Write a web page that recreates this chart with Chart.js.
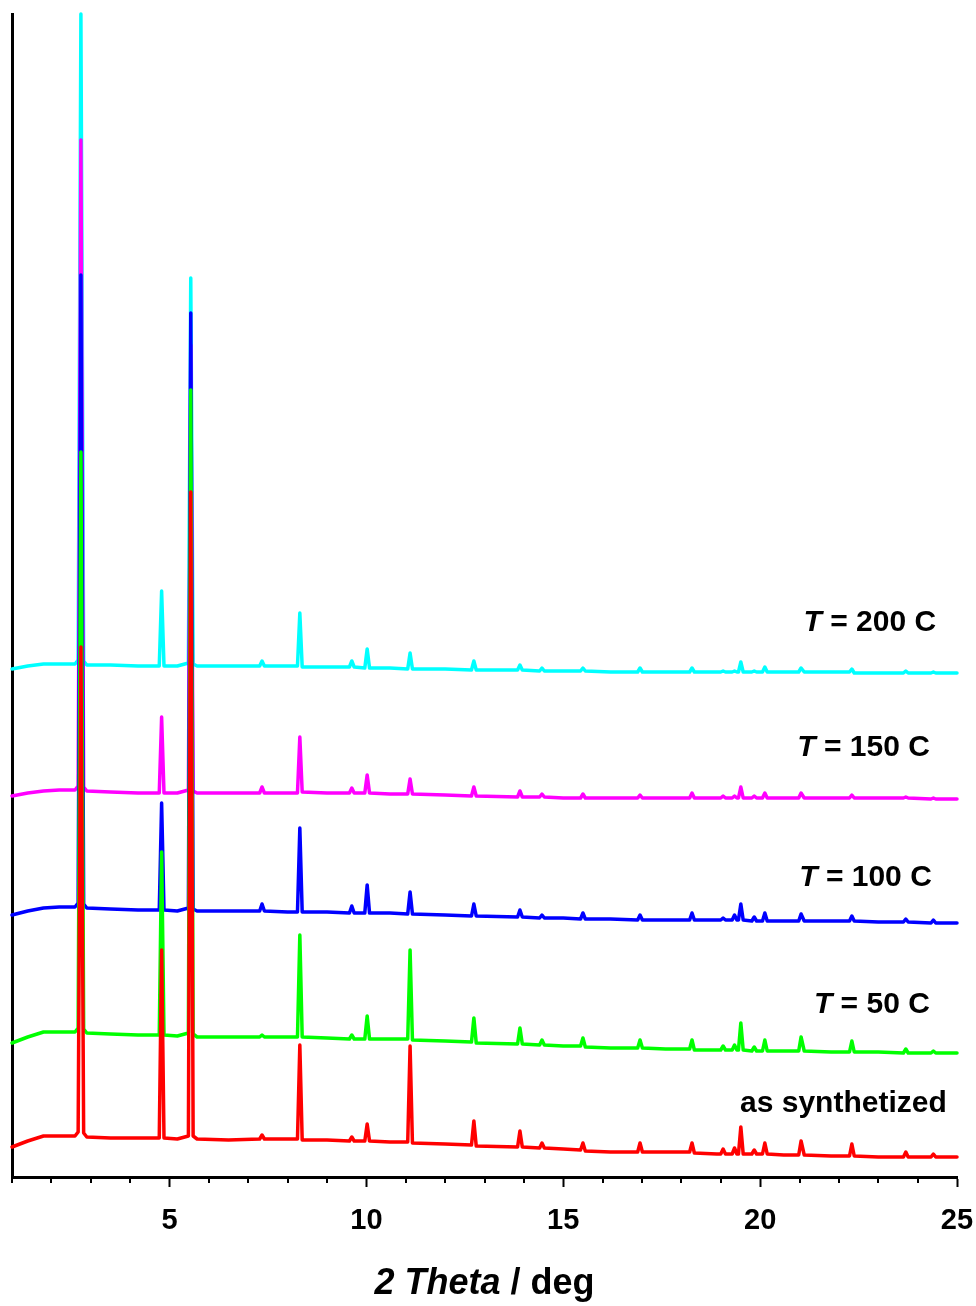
<!DOCTYPE html>
<html><head><meta charset="utf-8">
<script src="https://cdn.jsdelivr.net/npm/chart.js@4.4.0/dist/chart.umd.min.js"></script>
<style>html,body{margin:0;padding:0;background:#fff}#wrap{width:976px;height:1306px}</style>
</head><body><div id="wrap"><canvas id="c" width="976" height="1306"></canvas></div>
<script>
// 2 Theta grid (deg)
const twoTheta = [
  1.0, 1.4, 1.8, 2.2, 2.6, 2.68, 2.75, 2.82, 2.9, 3.5,
  4.2, 4.74, 4.80, 4.86, 5.2, 5.48, 5.54, 5.60, 5.7, 6.5,
  7.29, 7.35, 7.41, 8.0, 8.25, 8.31, 8.37, 9.0, 9.57, 9.63,
  9.69, 9.96, 10.02, 10.08, 10.6, 11.05, 11.11, 11.17, 12.0, 12.67,
  12.73, 12.79, 13.84, 13.9, 13.96, 14.4, 14.46, 14.52, 15.0, 15.44,
  15.5, 15.56, 16.2, 16.89, 16.95, 17.01, 17.6, 18.21, 18.27, 18.33,
  18.9, 19.0, 19.06, 19.12, 19.29, 19.35, 19.41, 19.45, 19.51, 19.57,
  19.79, 19.85, 19.91, 20.06, 20.12, 20.18, 20.6, 20.98, 21.04, 21.12,
  21.8, 22.27, 22.33, 22.39, 23.0, 23.64, 23.7, 23.76, 24.34, 24.4,
  24.46, 25.0
];
// intensities (a.u., stacked with offsets)
const asSynthetized = [
  30, 36, 41, 41, 41, 45, 530, 44, 40, 39,
  39, 39, 227, 39, 38, 41, 685, 41, 38, 37,
  38, 42, 38, 38, 38, 132, 37, 37, 36, 40,
  36, 36, 53, 36, 35, 35, 131, 34, 33, 32,
  56, 31, 30, 46, 30, 29, 34, 29, 28, 27,
  34, 26, 25, 25, 34, 25, 25, 25, 34, 24,
  23, 23, 28, 23, 23, 29, 23, 23, 50, 23,
  23, 27, 23, 23, 34, 23, 22, 22, 36, 22,
  21, 21, 33, 21, 20, 20, 25, 20, 20, 23,
  20, 20
];
const t50 = [
  134, 140, 145, 145, 145, 149, 725, 148, 144, 143,
  142, 142, 325, 142, 141, 144, 787, 143, 140, 140,
  140, 142, 140, 140, 140, 242, 140, 139, 138, 142,
  138, 138, 161, 138, 138, 138, 227, 137, 136, 135,
  159, 134, 133, 149, 133, 132, 137, 132, 131, 131,
  139, 130, 129, 129, 137, 129, 128, 128, 137, 127,
  127, 127, 131, 127, 127, 132, 127, 127, 154, 127,
  126, 130, 126, 126, 137, 126, 126, 126, 140, 126,
  125, 125, 136, 125, 125, 124, 128, 124, 124, 126,
  124, 124
];
const t100 = [
  262, 266, 269, 270, 270, 274, 902, 273, 269, 268,
  267, 267, 374, 267, 266, 269, 864, 268, 266, 266,
  266, 273, 266, 265, 265, 349, 265, 265, 264, 271,
  264, 264, 292, 264, 264, 263, 285, 263, 262, 261,
  273, 261, 260, 267, 260, 259, 262, 259, 259, 258,
  264, 258, 258, 257, 262, 257, 257, 257, 264, 257,
  257, 257, 259, 257, 257, 262, 257, 257, 273, 257,
  256, 260, 256, 256, 264, 256, 256, 256, 263, 256,
  256, 256, 261, 256, 255, 255, 258, 255, 254, 257,
  254, 254
];
const t150 = [
  381, 384, 386, 387, 387, 391, 1037, 390, 386, 385,
  384, 384, 460, 384, 384, 387, 832, 386, 384, 384,
  384, 390, 384, 384, 384, 440, 385, 384, 384, 389,
  384, 384, 402, 384, 383, 383, 398, 383, 382, 381,
  390, 381, 380, 386, 380, 380, 383, 380, 379, 379,
  383, 379, 379, 379, 382, 379, 379, 379, 384, 379,
  379, 379, 381, 379, 379, 381, 379, 379, 390, 379,
  379, 381, 379, 379, 384, 379, 379, 379, 384, 379,
  379, 379, 382, 379, 379, 379, 380, 379, 378, 379,
  378, 378
];
const t200 = [
  508, 511, 513, 513, 513, 517, 1163, 516, 512, 512,
  511, 511, 586, 511, 511, 514, 899, 513, 511, 511,
  511, 516, 511, 511, 511, 564, 510, 510, 510, 516,
  510, 509, 528, 509, 509, 508, 524, 508, 508, 507,
  516, 507, 507, 512, 507, 506, 509, 506, 506, 506,
  509, 506, 505, 505, 509, 505, 505, 505, 509, 505,
  505, 505, 506, 505, 505, 506, 505, 505, 515, 505,
  505, 506, 505, 505, 510, 505, 505, 505, 509, 505,
  505, 505, 508, 504, 504, 504, 506, 504, 504, 505,
  504, 504
];
const seriesValues = [asSynthetized, t50, t100, t150, t200];
const seriesColors = ['#ff0000', '#00ff00', '#0000ff', '#ff00ff', '#00ffff'];
const seriesItalic = ['', 'T', 'T', 'T', 'T'];
const seriesRest = ['as synthetized', ' = 50 C', ' = 100 C', ' = 150 C', ' = 200 C'];
const labelX = [24.74, 24.31, 24.36, 24.31, 24.47];
const labelY = [73, 172, 299, 429, 554];
const xMin = 1, xMax = 25, yMin = 0, yMax = 1163;
const majorTicks = [5, 10, 15, 20, 25];

const FONT = "'Liberation Sans', Arial, Helvetica, sans-serif";

const datasets = seriesValues.map((vals, i) => ({
  label: seriesItalic[i] + seriesRest[i],
  data: twoTheta.map((x, j) => ({x: x, y: vals[j]})),
  borderColor: seriesColors[i],
  backgroundColor: seriesColors[i],
  borderWidth: 3.5,
  pointRadius: 0,
  tension: 0,
  fill: false,
  clip: false,
  borderJoinStyle: 'round',
  borderCapStyle: 'round'
}));

const decor = {
  id: 'decor',
  afterDraw(chart) {
    const ctx = chart.ctx;
    const xs = chart.scales.x, ys = chart.scales.y;
    const area = chart.chartArea;
    ctx.save();
    // minor ticks
    ctx.strokeStyle = '#000';
    ctx.lineWidth = 2;
    for (let v = xMin; v <= xMax; v++) {
      if (majorTicks.includes(v)) continue;
      const px = Math.round(xs.getPixelForValue(v));
      ctx.beginPath();
      ctx.moveTo(px, area.bottom);
      ctx.lineTo(px, area.bottom + 6);
      ctx.stroke();
    }
    // series labels
    ctx.fillStyle = '#000';
    ctx.textBaseline = 'middle';
    const bold = 'bold 30px ' + FONT;
    const boldIt = 'italic bold 30px ' + FONT;
    for (let i = 0; i < seriesRest.length; i++) {
      const right = xs.getPixelForValue(labelX[i]);
      const y = ys.getPixelForValue(labelY[i]);
      ctx.font = boldIt;
      const w1 = ctx.measureText(seriesItalic[i]).width;
      ctx.font = bold;
      const w2 = ctx.measureText(seriesRest[i]).width;
      let x = right - w1 - w2;
      ctx.font = boldIt;
      ctx.textAlign = 'left';
      ctx.fillText(seriesItalic[i], x, y);
      ctx.font = bold;
      ctx.fillText(seriesRest[i], x + w1, y);
    }
    // axis title
    const parts = [['2 Theta', true], [' / deg', false]];
    const fs = 36;
    let total = 0;
    parts.forEach(p => { ctx.font = (p[1] ? 'italic ' : '') + 'bold ' + fs + 'px ' + FONT; total += ctx.measureText(p[0]).width; });
    let tx = (area.left + area.right) / 2 - total / 2;
    ctx.textBaseline = 'alphabetic';
    parts.forEach(p => {
      ctx.font = (p[1] ? 'italic ' : '') + 'bold ' + fs + 'px ' + FONT;
      ctx.fillText(p[0], tx, 1294);
      tx += ctx.measureText(p[0]).width;
    });
    ctx.restore();
  }
};

new Chart(document.getElementById('c'), {
  type: 'line',
  data: { datasets: datasets },
  options: {
    responsive: false,
    animation: false,
    devicePixelRatio: 1,
    layout: { padding: { left: 12, right: 19, top: 14, bottom: 59 } },
    plugins: { legend: { display: false }, tooltip: { enabled: false }, title: { display: false } },
    scales: {
      x: {
        type: 'linear', min: xMin, max: xMax,
        afterFit: s => { s.height = 70; s.paddingLeft = 0; s.paddingRight = 0; },
        ticks: {
          stepSize: 1, autoSkip: false, maxRotation: 0, padding: 17,
          color: '#000',
          font: { family: FONT, size: 29, weight: 'bold' },
          callback: v => (majorTicks.includes(v) ? String(v) : '')
        },
        grid: {
          drawOnChartArea: false, tickLength: 10, tickWidth: 2,
          tickColor: c => (c.tick && majorTicks.includes(c.tick.value) ? '#000' : 'rgba(0,0,0,0)')
        },
        border: { display: true, color: '#000', width: 3 }
      },
      y: {
        type: 'linear', min: yMin, max: yMax,
        afterFit: s => { s.width = 0; s.paddingTop = 0; s.paddingBottom = 0; },
        ticks: { display: false },
        grid: { display: false, drawTicks: false },
        border: { display: true, color: '#000', width: 3 }
      }
    }
  },
  plugins: [decor]
});
</script>
</body></html>
